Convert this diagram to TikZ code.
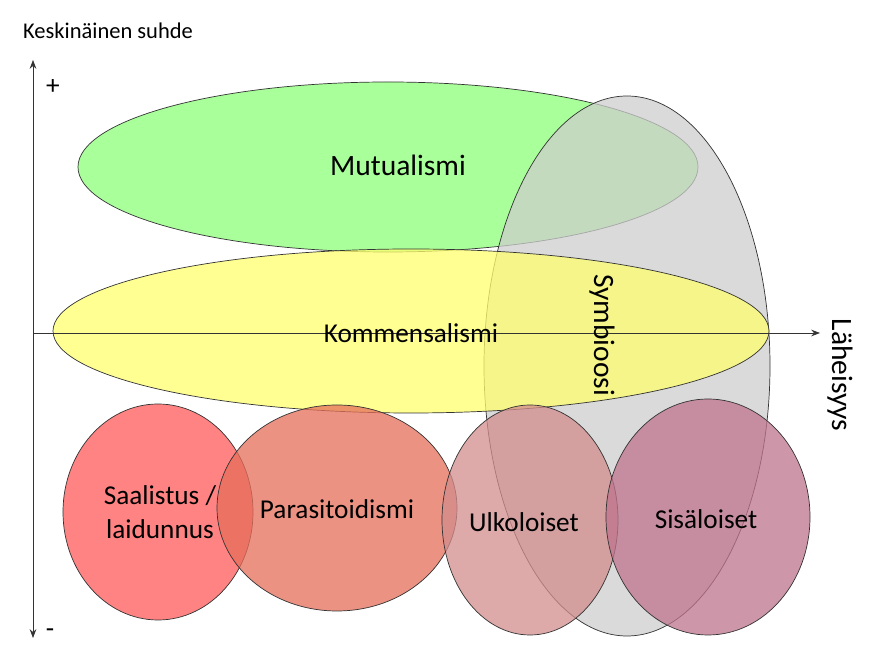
\documentclass[tikz,border=0pt]{standalone}
\usepackage{fontspec}
\setmainfont{Carlito}
\usetikzlibrary{arrows.meta}
\tikzset{
  blob/.style={draw=black!80, fill opacity=0.75, text opacity=1},
  lbl/.style={font=\fontsize{15.5}{19}\selectfont, align=center},
  big/.style={font=\fontsize{16.8}{20}\selectfont},
  axis/.style={-{Stealth[length=5pt]}, black!80}
}
\begin{document}
\begin{tikzpicture}[x=0.02cm,y=-0.02cm]
  \useasboundingbox (0,0) rectangle (890,668);
  % axes
  \coordinate (ybot) at (33,638);
  \coordinate (ytop) at (33,60);
  \coordinate (xl) at (33,333);
  \coordinate (xr) at (820,333);
  % ellipses
  \draw[blob, fill={rgb,255:red,140;green,255;blue,120}] (388,167) ellipse [x radius=310, y radius=85];
  \draw[blob, fill={rgb,255:red,205;green,205;blue,205}] (627,366) ellipse [x radius=143, y radius=270];
  \draw[blob, fill={rgb,255:red,255;green,255;blue,110}] (411,331) ellipse [x radius=358, y radius=82];
  \draw[blob, fill={rgb,255:red,255;green,90;blue,90}] (158,512) ellipse [x radius=95, y radius=108];
  \draw[blob, fill={rgb,255:red,230;green,110;blue,90}] (337,508) ellipse [x radius=120, y radius=103];
  \draw[blob, fill={rgb,255:red,210;green,140;blue,140}] (530,520) ellipse [x radius=88, y radius=115];
  \draw[blob, fill={rgb,255:red,190;green,115;blue,140}] (708,517) ellipse [x radius=102, y radius=118];
  \draw[axis] (xl) -- (xr);
  \draw[{Stealth[length=5pt]}-{Stealth[length=5pt]}, black!80] (ybot) -- (ytop);
  % labels
  \node[font=\fontsize{12.8}{15}\selectfont] (yaxis) at (108,31) {Keskinäinen suhde};
  \node[lbl] (plus) at (53,87) {+};
  \node[lbl] (minus) at (50,633) {-};
  \node[lbl, big, rotate=-90] (xaxis) at (840,375) {Läheisyys};
  \node[lbl, big] (mutual) at (398,165) {Mutualismi};
  \node[lbl] (kommens) at (411,333) {Kommensalismi};
  \node[lbl, big, rotate=-90] (symb) at (602,335) {Symbioosi};
  \node[lbl] (saal) at (160,512) {Saalistus /\\laidunnus};
  \node[lbl] (paras) at (337,509) {Parasitoidismi};
  \node[lbl] (ulko) at (524,522) {Ulkoloiset};
  \node[lbl] (sisa) at (706,519) {Sisäloiset};
\end{tikzpicture}
\end{document}
